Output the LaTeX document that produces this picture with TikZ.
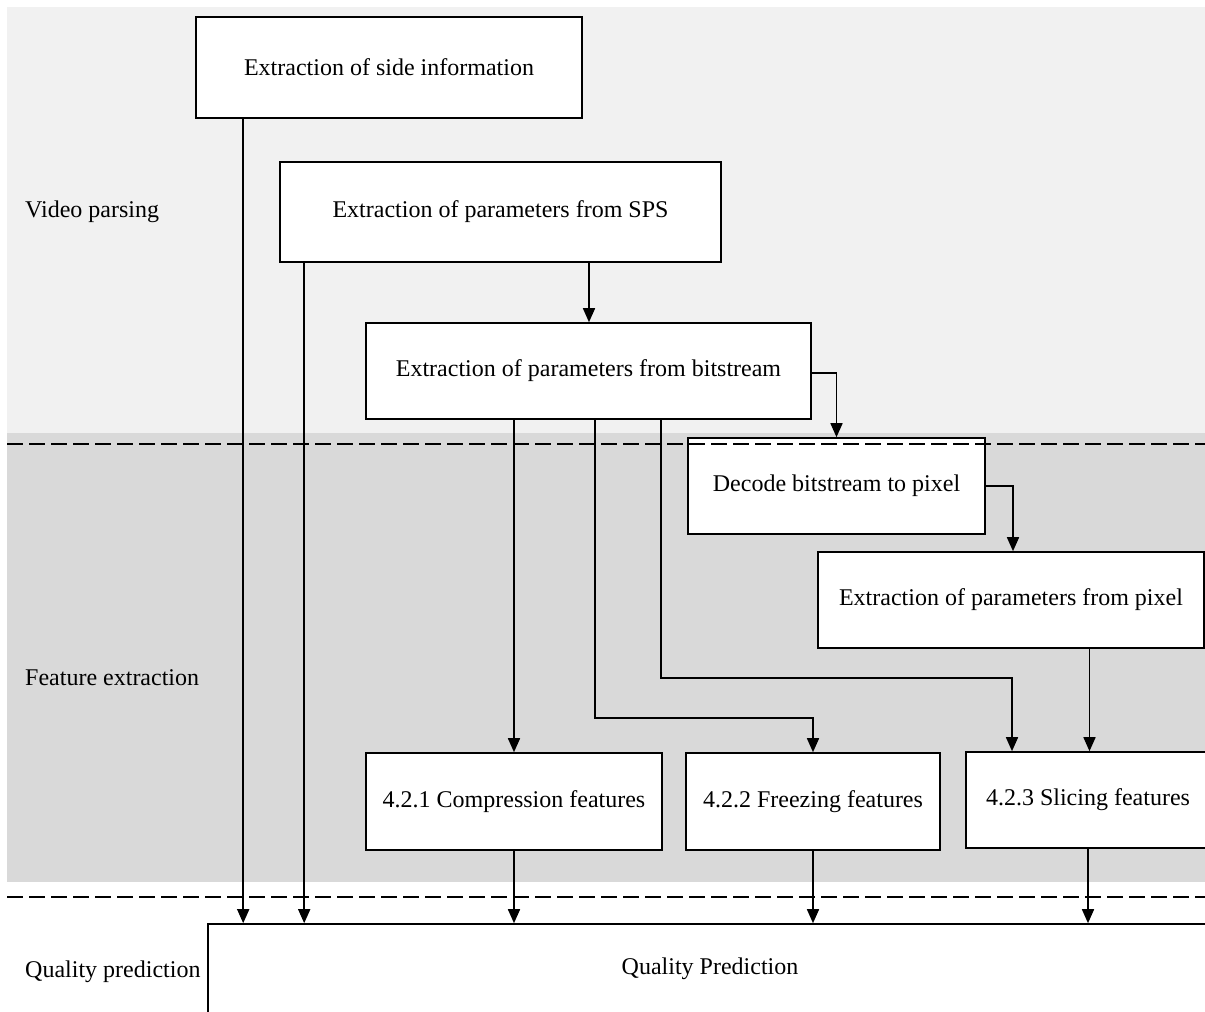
\documentclass[tikz,border=0pt]{standalone}
\usepackage{fontspec}
\setmainfont{Liberation Serif}
\usetikzlibrary{arrows.meta}

\definecolor{bandlight}{RGB}{241,241,241}
\definecolor{banddark}{RGB}{217,217,217}

\tikzset{
  stage/.style={draw=black, fill=white, line width=1.6pt, inner sep=0pt},
  flow/.style={line width=1.6pt, -{Triangle[length=14pt,width=12pt]}},
  plain/.style={line width=1.6pt},
  divider/.style={line width=2pt, dash pattern=on 16pt off 6pt},
  lanelabel/.style={anchor=west, inner sep=0pt},
}

\begin{document}
\begin{tikzpicture}[x=1pt, y=-1pt, font=\fontsize{24}{28}\selectfont]
\useasboundingbox (0,0) rectangle (1205,1012);
\clip (0,0) rectangle (1205,1012);

% background bands
\fill[bandlight] (7,7) rectangle (1205,433);
\fill[banddark] (7,433) rectangle (1205,882);

% lane titles
\node[lanelabel] (lvp) at (25,212) {Video parsing};
\node[lanelabel] (lfe) at (25,678) {Feature extraction};
\node[lanelabel] (lqp) at (25,972) {Quality prediction};

% processing stages
\node[stage, minimum width=386pt, minimum height=101pt] (side) at (389,67.5) {Extraction of side information};
\node[stage, minimum width=441pt, minimum height=100pt] (sps) at (500.5,212) {Extraction of parameters from SPS};
\node[stage, minimum width=445pt, minimum height=96pt] (bits) at (588.5,371) {Extraction of parameters from bitstream};
\node[stage, minimum width=297pt, minimum height=96pt] (dec) at (836.5,486) {Decode bitstream to pixel};
\node[stage, minimum width=386pt, minimum height=96pt] (pix) at (1011,600) {Extraction of parameters from pixel};
\node[stage, minimum width=296pt, minimum height=97pt] (comp) at (514,801.5) {4.2.1 Compression features};
\node[stage, minimum width=254pt, minimum height=97pt] (frz) at (813,801.5) {4.2.2 Freezing features};
\node[stage, minimum width=244pt, minimum height=96pt] (slc) at (1088,800) {4.2.3 Slicing features};
\node[stage, minimum width=1004pt, minimum height=90pt] (qp) at (710,969) {Quality Prediction};

% connectors
\draw[flow] ([xshift=48pt]side.south west) -- ([xshift=48pt]side.south west |- qp.north);
\draw[flow] ([xshift=25pt]sps.south west) -- ([xshift=25pt]sps.south west |- qp.north);
\draw[flow] ([xshift=88.5pt]sps.south) -- ([xshift=88.5pt]sps.south |- bits.north);
\draw[flow] ([yshift=-2pt]bits.east) -| (dec.north);
\draw[flow] ([xshift=-74.5pt]bits.south) -- ([xshift=-74.5pt]bits.south |- comp.north);
\draw[flow] ([xshift=6.5pt]bits.south) |- (frz.north |- 0,718) -- (frz.north);
\draw[flow] ([xshift=72.5pt]bits.south) |- ([xshift=-76pt]slc.north |- 0,678) -- ([xshift=-76pt]slc.north);
\draw[flow] (dec.east) -| ([xshift=2pt]pix.north);
\draw[flow] ([xshift=78.5pt]pix.south) -- ([xshift=78.5pt]pix.south |- slc.north);
\draw[flow] (comp.south) -- (comp.south |- qp.north);
\draw[flow] (frz.south) -- (frz.south |- qp.north);
\draw[flow] (slc.south) -- (slc.south |- qp.north);

% lane dividers
\draw[divider] (7,444) -- (1205,444);
\draw[divider] (7,897) -- (1205,897);
\end{tikzpicture}
\end{document}
